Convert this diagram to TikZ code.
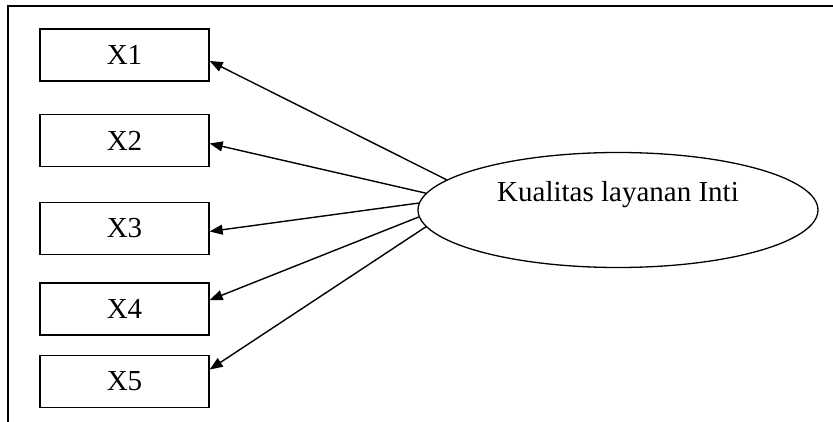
\documentclass[tikz,border=0pt]{standalone}
\usepackage{fontspec}
\setmainfont{Liberation Serif}
\usepackage{tikz}
\usetikzlibrary{shapes.geometric,arrows.meta}

\tikzset{
        ind/.style={draw, line width=1.3pt, minimum width=169pt, minimum height=52pt, inner sep=0pt, font=\fontsize{29}{34}\selectfont},
        lat/.style={draw, ellipse, line width=1.3pt, minimum width=400pt, minimum height=115pt, inner sep=0pt},
        arw/.style={line width=1.4pt, -{Triangle[length=13pt,width=10pt]}}
}

\begin{document}
\begin{tikzpicture}[x=1pt, y=-1pt]
        \useasboundingbox (0,0) rectangle (833,422);
        \draw [line width=1.8pt] (833,6) -- (8,6) -- (8,422);
        \node (x1) [ind] at (124.5, 55.0) {X1};
        \node (x2) [ind] at (124.5, 140.5) {X2};
        \node (x3) [ind] at (124.5, 228.5) {X3};
        \node (x4) [ind] at (124.5, 309.0) {X4};
        \node (x5) [ind] at (124.5, 381.5) {X5};
        \node (k) [lat, label={[yshift=15pt, font=\fontsize{29}{34}\selectfont]center:Kualitas layanan Inti}] at (618, 210) {};
        \draw (k.170) edge [arw] (x1.-4);
        \draw (k.175) edge [arw] (x2.-2);
        \draw (k.178) edge [arw] (x3.-2);
        \draw (k.182) edge [arw] (x4.6);
        \draw (k.185) edge [arw] (x5.8);
\end{tikzpicture}
\end{document}
